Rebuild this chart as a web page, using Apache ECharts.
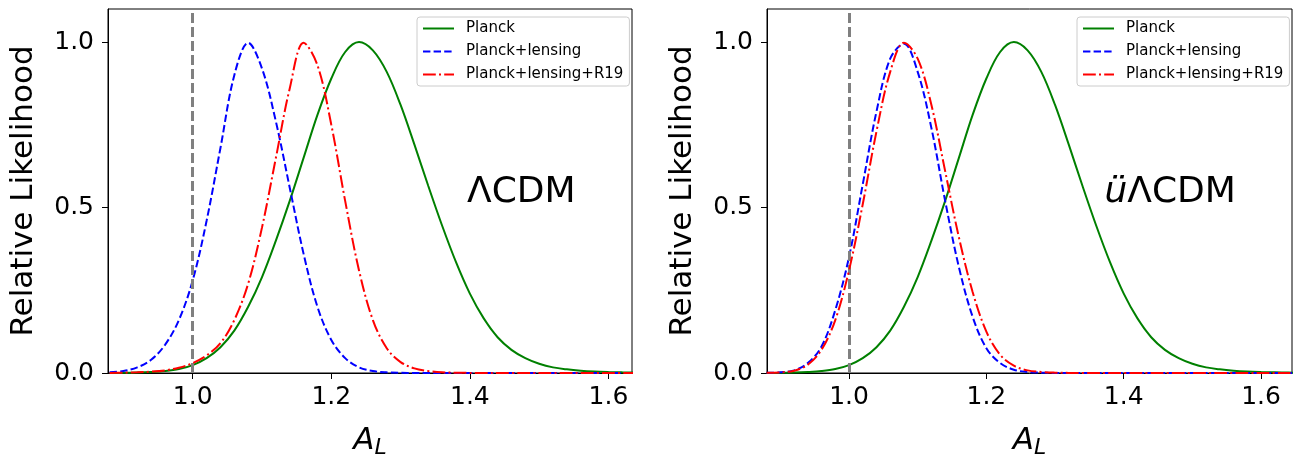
<!DOCTYPE html>
<html>
<head>
<meta charset="utf-8">
<script src="https://cdn.jsdelivr.net/npm/echarts@6/dist/echarts.min.js"></script>
<style>
html,body{margin:0;padding:0;background:#fff;}
#chart{width:1294px;height:464px;}
</style>
</head>
<body>
<div id="chart"></div>
<script>
// ---- data ----
const xValues = [0.88,0.90,0.92,0.94,0.96,0.98,1.00,1.02,1.04,1.06,1.08,1.10,1.12,1.14,1.16,1.18,1.20,1.22,1.24,1.26,1.28,1.30,1.32,1.34,1.36,1.38,1.40,1.42,1.44,1.46,1.48,1.50,1.52,1.54,1.56,1.58,1.60,1.62,1.64,1.66];

// Left panel (LambdaCDM)
const leftPlanck = [0.0002,0.0005,0.0013,0.003,0.006,0.012,0.024,0.045,0.078,0.128,0.20,0.29,0.40,0.52,0.65,0.78,0.89,0.97,1.00,0.975,0.91,0.81,0.69,0.565,0.445,0.335,0.24,0.165,0.108,0.07,0.045,0.028,0.017,0.011,0.007,0.0045,0.003,0.002,0.0013,0.0008];
const leftLensing = [0.002,0.006,0.017,0.04,0.085,0.16,0.28,0.46,0.68,0.90,0.998,0.92,0.76,0.56,0.36,0.20,0.10,0.045,0.017,0.006,0.002,0.0005,0.0001,0,0,0,0,0,0,0,0,0,0,0,0,0,0,0,0,0];
const leftLensingR19 = [0.0003,0.001,0.002,0.004,0.008,0.016,0.03,0.053,0.09,0.16,0.27,0.44,0.65,0.86,0.998,0.93,0.75,0.52,0.31,0.16,0.075,0.033,0.014,0.006,0.002,0.001,0.0003,0,0,0,0,0,0,0,0,0,0,0,0,0];

// Right panel (u-LambdaCDM)
const rightPlanck = leftPlanck.slice();
const rightLensing = [0.0005,0.002,0.008,0.03,0.08,0.19,0.35,0.57,0.79,0.95,0.995,0.91,0.74,0.52,0.32,0.17,0.075,0.03,0.01,0.003,0.001,0.0002,0,0,0,0,0,0,0,0,0,0,0,0,0,0,0,0,0,0];
const rightLensingR19 = [0.0005,0.002,0.007,0.025,0.07,0.16,0.31,0.51,0.73,0.91,0.998,0.95,0.81,0.61,0.41,0.245,0.125,0.055,0.022,0.008,0.003,0.001,0.0003,0.0001,0,0,0,0,0,0,0,0,0,0,0,0,0,0,0,0];

const seriesNames = ['Planck','Planck+lensing','Planck+lensing+R19'];
const xTicks = [1.0,1.2,1.4,1.6];
const yTicks = [0.0,0.5,1.0];
const refLine = 1.0;
const panelLabels = ['ΛCDM','üΛCDM'];
const labelPos = [[1.396,0.545],[1.372,0.545]];

// ---- styling ----
const colors = ['#008000','#0000ff','#ff0000'];
const dashes = ['solid',[7.4,3.2],[12.8,3.2,2,3.2]];
const FONT = 'DejaVu Sans';

function pairs(ys){ return xValues.map((x,i)=>[x,ys[i]]); }

const grids = [
  {left:108, top:9, width:524, height:369},
  {left:767, top:9, width:525, height:369}
];
const xRanges = [[0.8777,1.634],[0.8806,1.645]];

const xAxes = grids.map((g,i)=>({
  gridIndex:i, type:'value', min:xRanges[i][0], max:xRanges[i][1],
  name:'{a|A}{s|L}', nameLocation:'middle', nameGap:50,
  nameTextStyle:{rich:{
    a:{fontFamily:FONT, fontSize:31, fontStyle:'italic', color:'#000'},
    s:{fontFamily:FONT, fontSize:22, fontStyle:'italic', color:'#000', padding:[14,0,0,0]}
  }},
  axisLine:{show:true, onZero:false, lineStyle:{color:'#000', width:1}},
  axisTick:{show:true, length:6, customValues:xTicks, lineStyle:{color:'#000', width:1}},
  axisLabel:{customValues:xTicks, margin:12, fontFamily:FONT, fontSize:25, color:'#000',
    formatter:v=>v.toFixed(1)},
  splitLine:{show:false}
}));

const yAxes = grids.map((g,i)=>({
  gridIndex:i, type:'value', min:0, max:1.1,
  name:'Relative Likelihood', nameLocation:'middle', nameGap:69,
  nameTextStyle:{fontFamily:FONT, fontSize:31, color:'#000'},
  axisLine:{show:true, onZero:false, lineStyle:{color:'#000', width:1}},
  axisTick:{show:true, length:6, customValues:yTicks, lineStyle:{color:'#000', width:1}},
  axisLabel:{customValues:yTicks, margin:14, fontFamily:FONT, fontSize:25, color:'#000',
    formatter:v=>v.toFixed(1)},
  splitLine:{show:false}
}));

const panelData = [
  [leftPlanck,leftLensing,leftLensingR19],
  [rightPlanck,rightLensing,rightLensingR19]
];

const series = [];
panelData.forEach((arrs,p)=>{
  arrs.forEach((ys,k)=>{
    const s = {
      name:seriesNames[k], type:'line', xAxisIndex:p, yAxisIndex:p,
      data:pairs(ys), smooth:0.35, symbol:'none', clip:true,
      lineStyle:{color:colors[k], width:2, type:dashes[k]},
      itemStyle:{color:colors[k]},
      z:3+k, animation:false
    };
    if(k===0){
      s.markLine = {silent:true, symbol:'none', animation:false,
        label:{show:false},
        lineStyle:{color:'#808080', width:3, type:[10,4]},
        data:[{xAxis:refLine}]};
    }
    series.push(s);
  });
  series.push({
    type:'scatter', xAxisIndex:p, yAxisIndex:p, silent:true, symbolSize:0,
    data:[labelPos[p]], animation:false, itemStyle:{opacity:1},
    label:{show:true, position:'right', distance:0, color:'#000', opacity:1,
      fontFamily:FONT, fontSize:36,
      formatter: p===0 ? '{n|' + panelLabels[0] + '}' : '{i|ü}{n|ΛCDM}',
      rich:{n:{fontFamily:FONT, fontSize:36, color:'#000'},
            i:{fontFamily:FONT, fontSize:36, fontStyle:'italic', color:'#000'}}}
  });
});

const legends = [417,1077].map(l=>({
  orient:'vertical', left:l, top:17, data:seriesNames,
  itemWidth:31, itemHeight:14, itemGap:8, padding:[4,6,4,5],
  backgroundColor:'rgba(255,255,255,0.8)', borderColor:'#cccccc', borderWidth:1, borderRadius:3,
  itemStyle:{opacity:0},
  textStyle:{fontFamily:FONT, fontSize:15, color:'#000', padding:[0,0,0,7]},
  selectedMode:false
}));

const chart = echarts.init(document.getElementById('chart'), null, {renderer:'canvas'});
chart.setOption({
  backgroundColor:'#fff',
  animation:false,
  grid: grids.map(g=>Object.assign({show:true, borderColor:'#000', borderWidth:1, containLabel:false}, g)),
  xAxis:xAxes, yAxis:yAxes, legend:legends, series:series
});
</script>
</body>
</html>
